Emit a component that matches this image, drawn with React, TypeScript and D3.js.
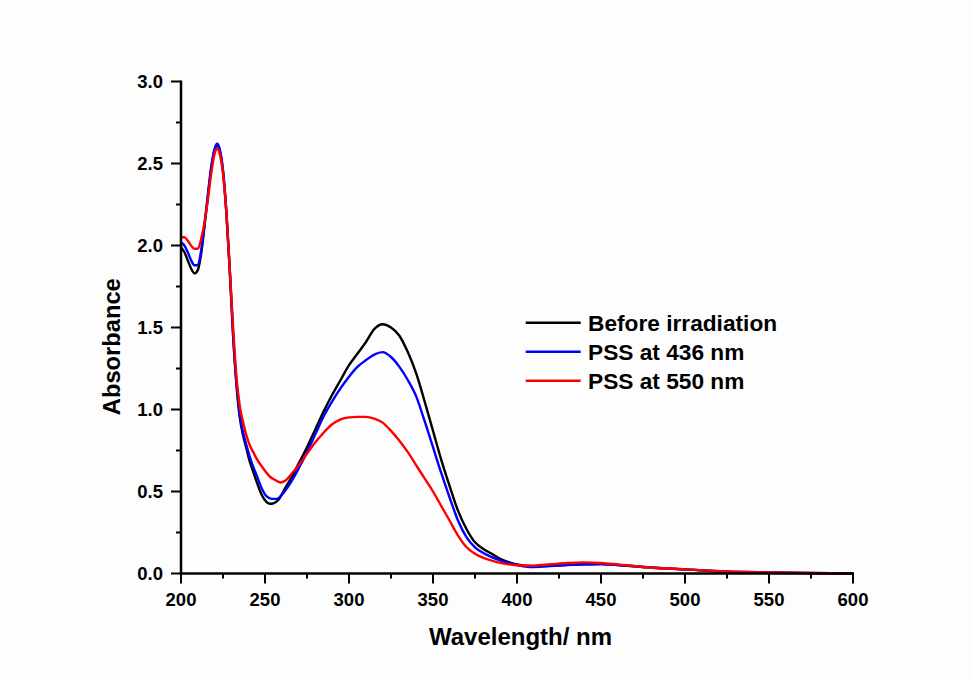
import React from "react";
import * as d3 from "d3";

const blackWl = [200,202,204,206,208,210,212,214,216,218,220,221.5,223,225,227,229,231,233,235,237,239,241,243,245,248,251,253,255,258,262,266,270,275,280,285,290,295,300,305,310,315,320,325,330,335,340,345,350,355,360,365,370,375,380,385,390,395,400,405,410,420,430,440,450,460,475,500,525,550,575,600];
const blackAbs = [1.99,1.96,1.91,1.86,1.83,1.85,1.95,2.12,2.30,2.47,2.58,2.61,2.58,2.45,2.20,1.85,1.45,1.15,0.95,0.84,0.76,0.68,0.62,0.56,0.48,0.435,0.425,0.428,0.45,0.52,0.59,0.67,0.77,0.88,0.99,1.09,1.18,1.27,1.34,1.41,1.49,1.52,1.50,1.45,1.35,1.22,1.05,0.87,0.69,0.53,0.38,0.27,0.19,0.15,0.12,0.09,0.07,0.055,0.047,0.045,0.048,0.053,0.056,0.058,0.052,0.040,0.025,0.010,0.005,0.002,0.0];

const blueWl = [200,202,204,206,208,210,212,214,216,218,220,221.5,223,225,227,229,231,233,235,237,239,241,243,245,248,251,254,257,260,265,270,275,280,285,290,295,300,305,310,315,320,325,330,335,340,345,350,355,360,365,370,375,380,385,390,395,400,405,410,420,430,440,450,460,475,500,525,550,575,600];
const blueAbs = [2.02,2.00,1.96,1.91,1.88,1.88,1.97,2.13,2.31,2.48,2.59,2.62,2.59,2.46,2.21,1.86,1.47,1.17,0.97,0.86,0.78,0.71,0.65,0.60,0.52,0.47,0.455,0.455,0.48,0.55,0.64,0.74,0.85,0.96,1.05,1.13,1.20,1.26,1.30,1.335,1.35,1.32,1.26,1.18,1.08,0.93,0.77,0.61,0.46,0.32,0.22,0.16,0.125,0.10,0.08,0.064,0.052,0.043,0.040,0.045,0.052,0.056,0.058,0.052,0.040,0.025,0.012,0.007,0.003,0.0];

const redWl = [200,202,204,206,208,210,212,214,216,218,220,221.5,223,225,227,229,231,233,235,237,239,241,243,245,249,253,256,259,262,266,270,275,280,285,290,295,300,305,310,315,320,325,330,335,340,345,350,355,360,365,370,375,380,385,390,395,400,405,410,420,430,440,450,460,475,500,525,550,575,600];
const redAbs = [2.05,2.05,2.03,2.00,1.98,1.98,2.04,2.14,2.28,2.44,2.56,2.59,2.56,2.44,2.20,1.86,1.50,1.20,1.02,0.92,0.84,0.78,0.74,0.70,0.64,0.59,0.57,0.555,0.565,0.61,0.66,0.73,0.80,0.86,0.91,0.94,0.952,0.955,0.955,0.945,0.92,0.87,0.81,0.74,0.66,0.58,0.50,0.41,0.32,0.23,0.16,0.12,0.095,0.078,0.065,0.056,0.050,0.047,0.048,0.056,0.064,0.068,0.064,0.055,0.040,0.025,0.012,0.007,0.003,0.0];

const seriesNames = ["Before irradiation", "PSS at 436 nm", "PSS at 550 nm"];
const seriesColors = ["#000000", "#0000ff", "#ff0000"];
const xTicks = [200, 250, 300, 350, 400, 450, 500, 550, 600];
const yTicks = [0.0, 0.5, 1.0, 1.5, 2.0, 2.5, 3.0];

const W = 973;
const H = 680;
const X0 = 181;
const X1 = 853;
const Y0 = 573.5;
const Y1 = 81.5;
const FONT = "'Liberation Sans', Arial, sans-serif";

export default function App() {
  const x = d3.scaleLinear().domain([200, 600]).range([X0, X1]);
  const y = d3.scaleLinear().domain([0, 3]).range([Y0, Y1]);
  const series = [
    { wl: blackWl, abs: blackAbs },
    { wl: blueWl, abs: blueAbs },
    { wl: redWl, abs: redAbs },
  ];
  const line = d3
    .line<[number, number]>()
    .x((d) => x(d[0]))
    .y((d) => y(d[1]))
    .curve(d3.curveMonotoneX);

  const xMinor = d3.range(225, 600, 50);
  const yMinor = d3.range(0.25, 3, 0.5);

  return (
    <svg
      width={W}
      height={H}
      style={{ position: "absolute", left: 0, top: 0, background: "#fdfdfd" }}
    >
      <rect x={0} y={0} width={W} height={H} fill="#fdfdfd" />
      {series.map((s, i) => (
        <path
          key={i}
          d={line(s.wl.map((w, j) => [w, s.abs[j]] as [number, number])) || ""}
          fill="none"
          stroke={seriesColors[i]}
          strokeWidth={2.4}
          strokeLinejoin="round"
        />
      ))}
      <line x1={X0} x2={X1 + 1} y1={Y0} y2={Y0} stroke="#000" strokeWidth={2.5} />
      <line x1={X0} x2={X0} y1={Y1 - 1} y2={Y0 + 1} stroke="#000" strokeWidth={2.5} />
      {xTicks.map((t) => (
        <g key={"xt" + t}>
          <line x1={x(t)} x2={x(t)} y1={Y0} y2={Y0 + 10} stroke="#000" strokeWidth={2} />
          <text
            x={x(t)}
            y={606}
            textAnchor="middle"
            fontFamily={FONT}
            fontWeight="bold"
            fontSize={18.5}
          >
            {t}
          </text>
        </g>
      ))}
      {xMinor.map((t) => (
        <line key={"xm" + t} x1={x(t)} x2={x(t)} y1={Y0} y2={Y0 + 5} stroke="#000" strokeWidth={2} />
      ))}
      {yTicks.map((t) => (
        <g key={"yt" + t}>
          <line x1={X0 - 10} x2={X0} y1={y(t)} y2={y(t)} stroke="#000" strokeWidth={2} />
          <text
            x={163}
            y={y(t) + 6.5}
            textAnchor="end"
            fontFamily={FONT}
            fontWeight="bold"
            fontSize={18.5}
          >
            {t.toFixed(1)}
          </text>
        </g>
      ))}
      {yMinor.map((t) => (
        <line key={"ym" + t} x1={X0 - 5} x2={X0} y1={y(t)} y2={y(t)} stroke="#000" strokeWidth={2} />
      ))}
      <text
        x={520.5}
        y={645}
        textAnchor="middle"
        fontFamily={FONT}
        fontWeight="bold"
        fontSize={24}
      >
        Wavelength/ nm
      </text>
      <text
        transform={`translate(120, 346.7) rotate(-90)`}
        textAnchor="middle"
        fontFamily={FONT}
        fontWeight="bold"
        fontSize={23.7}
      >
        Absorbance
      </text>
      {seriesNames.map((n, i) => (
        <g key={"lg" + i}>
          <line
            x1={525.7}
            x2={580.7}
            y1={322.7 + i * 29}
            y2={322.7 + i * 29}
            stroke={seriesColors[i]}
            strokeWidth={2.4}
          />
          <text
            x={588}
            y={330.5 + i * 29}
            fontFamily={FONT}
            fontWeight="bold"
            fontSize={22.7}
          >
            {n}
          </text>
        </g>
      ))}
    </svg>
  );
}
